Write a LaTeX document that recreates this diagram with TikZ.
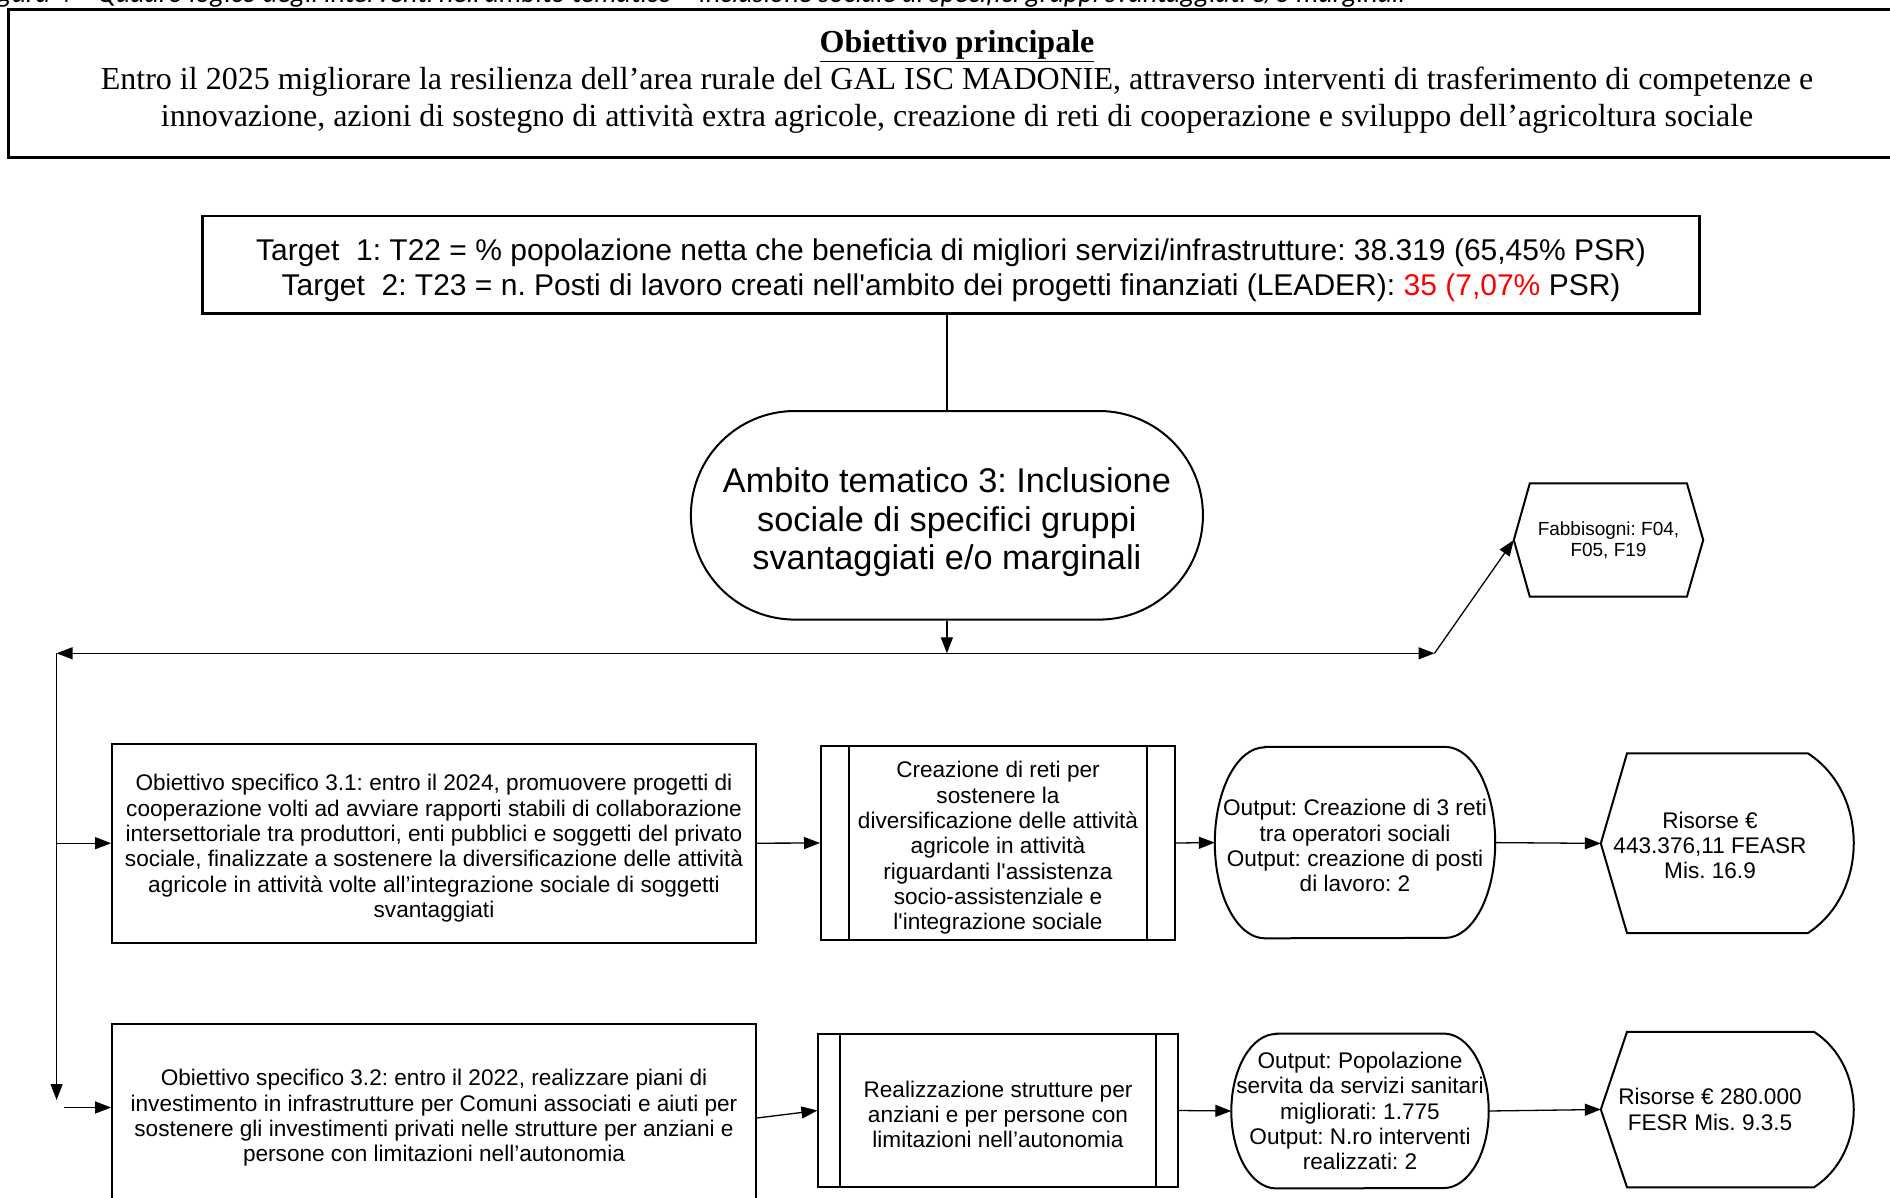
\documentclass[tikz,border=0pt]{standalone}
\usepackage{fontspec}
\setmainfont{Liberation Serif}
\newfontfamily\arialf{Liberation Sans}[Ligatures=TeXOff]
\newfontfamily\capf{Carlito}
\usetikzlibrary{arrows.meta}
\frenchspacing
\newcommand\ovaloutline[3]{%
  \draw[shp] ([xshift=#2]#1.north west) -- ([xshift=-#2]#1.north east)
    arc[start angle=90,end angle=-90,x radius=#2,y radius=#3]
    -- ([xshift=#2]#1.south west)
    arc[start angle=270,end angle=90,x radius=#2,y radius=#3] -- cycle;}
\begin{document}
\begin{tikzpicture}[x=1pt,y=1pt,
  shp/.style={draw, line width=2pt, inner sep=0pt},
  conn/.style={line width=1.3pt, -{Triangle[length=16pt,width=12pt]}},
  plain/.style={line width=1.3pt},
  sm/.style={font=\arialf\fontsize{22.6}{25.3}\selectfont, align=center, inner sep=0pt},
]
\useasboundingbox (0,0) rectangle (1890,-1198);

% caption (cut off at top)
\node[anchor=base west, inner sep=0pt, font=\capf\itshape\fontsize{28}{32}\selectfont] (cap) at (-22,-3)
  {Figura 4 – Quadro logico degli interventi nell’ambito tematico – Inclusione sociale di specifici gruppi svantaggiati e/o marginali};

% main objective
\node[draw, line width=3pt, minimum width=1898, minimum height=148, inner sep=0pt] (mainbox) at (957,-84) {};
\node[align=center, inner sep=0pt, font=\fontsize{32}{37}\selectfont] (maintext) at (957,-82)
  {\underline{\textbf{Obiettivo principale}}\\
   Entro il 2025 migliorare la resilienza dell’area rurale del GAL ISC MADONIE, attraverso interventi di trasferimento di competenze e\\
   innovazione, azioni di sostegno di attività extra agricole, creazione di reti di cooperazione e sviluppo dell’agricoltura sociale};

% targets
\node[draw, line width=2.5pt, minimum width=1497, minimum height=97.6, inner sep=0pt] (tgt) at (951,-264.6) {};
\node[align=center, inner sep=0pt, font=\arialf\fontsize{30}{35}\selectfont] (tgttext) at (951,-270.6)
  {Target\ \ 1: T22 = \% popolazione netta che beneficia di migliori servizi/infrastrutture: 38.319 (65,45\% PSR)\\
   Target\ \ 2: T23 = n. Posti di lavoro creati nell'ambito dei progetti finanziati (LEADER): \textcolor{red}{35 (7,07\%} PSR)};

% ambito
\node[shp, rounded corners=104pt, minimum width=512, minimum height=208.6] (amb) at (946.9,-515.3) {};
\node[align=center, inner sep=0pt, font=\arialf\fontsize{34.3}{38.5}\selectfont] (ambtext) at (946.9,-522.3)
  {Ambito tematico 3: Inclusione\\ sociale di specifici gruppi\\ svantaggiati e/o marginali};

% fabbisogni
\node[align=center, inner sep=0pt, minimum width=189, minimum height=113,
  font=\arialf\fontsize{19}{21}\selectfont] (fab) at (1608.5,-540) {Fabbisogni: F04,\\ F05, F19};
\draw[shp] (fab.west) -- ([xshift=16]fab.north west) -- ([xshift=-16.3]fab.north east) -- (fab.east)
  -- ([xshift=-16.3]fab.south east) -- ([xshift=16]fab.south west) -- cycle;

% row 1
\node[shp, minimum width=643.8, minimum height=199] (b31) at (434,-843.2) {};
\node[sm] (b31t) at (434,-848.2)
  {Obiettivo specifico 3.1: entro il 2024, promuovere progetti di\\
   cooperazione volti ad avviare rapporti stabili di collaborazione\\
   intersettoriale tra produttori, enti pubblici e soggetti del privato\\
   sociale, finalizzate a sostenere la diversificazione delle attività\\
   agricole in attività volte all’integrazione sociale di soggetti\\
   svantaggiati};
\node[shp, minimum width=354, minimum height=194] (p1) at (998,-843) {};
\node[sm] (p1t) at (998,-848)
  {Creazione di reti per\\ sostenere la\\ diversificazione delle attività\\ agricole in attività\\
   riguardanti l'assistenza\\ socio-assistenziale e\\ l'integrazione sociale};
\draw[shp] ([xshift=29]p1.north west) -- ([xshift=29]p1.south west);
\draw[shp] ([xshift=-29]p1.north east) -- ([xshift=-29]p1.south east);
\node[minimum width=280, minimum height=191, inner sep=0pt] (o1) at (1355,-842.6) {};
\node[sm] (o1t) at (1355,-845.6)
  {Output: Creazione di 3 reti\\ tra operatori sociali\\ Output: creazione di posti\\ di lavoro: 2};
\ovaloutline{o1}{50}{95.5}
\node[minimum width=218, minimum height=180, inner sep=0pt] (r1) at (1710,-843.4) {};
\node[sm] (r1t) at (1710,-845.4) {Risorse €\\ 443.376,11 FEASR\\ Mis. 16.9};
\draw[shp] (r1.west) -- (1627,-753.4) -- (1808,-753.4) .. controls (1869,-793) and (1869,-893) .. (1808,-933)
  -- (1627,-933) -- cycle;

% row 2
\node[shp, minimum width=643.8, minimum height=199, anchor=north] (b32) at (434,-1023.4) {};
\node[sm] (t32) at (434,-1118)
  {Obiettivo specifico 3.2: entro il 2022, realizzare piani di\\
   investimento in infrastrutture per Comuni associati e aiuti per\\
   sostenere gli investimenti privati nelle strutture per anziani e\\
   persone con limitazioni nell’autonomia};
\node[shp, minimum width=359.2, minimum height=153] (p2) at (998,-1110.5) {};
\node[sm] (p2t) at (998,-1114.5)
  {Realizzazione strutture per\\ anziani e per persone con\\ limitazioni nell’autonomia};
\draw[shp] ([xshift=23]p2.north west) -- ([xshift=23]p2.south west);
\draw[shp] ([xshift=-23]p2.north east) -- ([xshift=-23]p2.south east);
\node[minimum width=257, minimum height=154.5, inner sep=0pt] (o2) at (1360,-1111) {};
\node[sm] (o2t) at (1360,-1111)
  {Output: Popolazione\\ servita da servizi sanitari\\ migliorati: 1.775\\ Output: N.ro interventi\\ realizzati: 2};
\ovaloutline{o2}{45}{77.25}
\node[minimum width=218, minimum height=155, inner sep=0pt] (r2) at (1710,-1109.5) {};
\node[sm] (r2t) at (1710,-1109.5) {Risorse € 280.000\\ FESR Mis. 9.3.5};
\draw[shp] (r2.west) -- (1627,-1031.8) -- (1814,-1031.8) .. controls (1867,-1066) and (1867,-1153) .. (1814,-1187.3)
  -- (1627,-1187.3) -- cycle;

% connectors
\coordinate (hm) at (946.9,-653.3);
\coordinate (hl) at (56.6,-653.3);
\coordinate (hr) at (1434.5,-653.3);
\coordinate (vb) at (56.6,-1100);
\coordinate (br2) at (64,-1107.5);
\draw[plain] (tgt.south -| amb.north) -- (amb.north);
\draw[conn] (amb.south) -- (hm);
\draw[conn] (hm) -- (hl);
\draw[conn] (hm) -- (hr);
\draw[conn] (hr) -- (fab.west);
\draw[conn] (hl) -- (vb);
\draw[conn] (hl |- b31.west) -- (b31.west);
\draw[conn] (br2) -- (br2 -| b32.west);
\draw[conn] (b31.east) -- (p1.west);
\draw[conn] (p1.east) -- (o1.west);
\draw[conn] (o1.east) -- (r1.west);
\draw[conn] (b32.east |- t32.east) -- (p2.west);
\draw[conn] (p2.east) -- (o2.west);
\draw[conn] (o2.east) -- (r2.west);
\end{tikzpicture}
\end{document}
